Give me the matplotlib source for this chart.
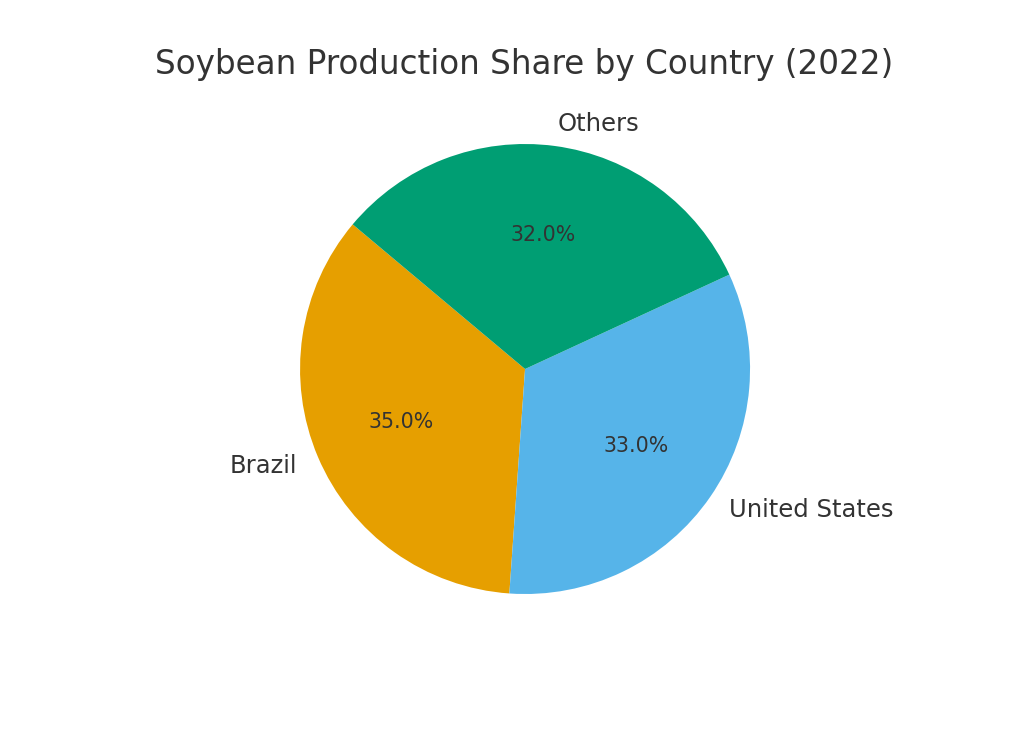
import matplotlib
matplotlib.use("Agg")
import matplotlib.pyplot as plt

countries = ["Brazil", "United States", "Others"]
shares = [35.0, 33.0, 32.0]
colors = ["#E69F00", "#56B4E9", "#009E73"]

fig = plt.figure(figsize=(10.24, 7.31), dpi=100)
ax = fig.add_axes([0.5127 - 0.2197, 0.4952 - 0.3078, 0.4395, 0.6156])
wedges, texts, autotexts = ax.pie(shares, labels=countries, colors=colors, startangle=140,
                                  autopct="%1.1f%%", textprops={"color": "#333333", "fontsize": 17.5})
for t in autotexts:
    t.set_fontsize(14.8)
ax.set_xlim(-1, 1)
ax.set_ylim(-1, 1)
ax.set_aspect("equal")
fig.text(0.5117, 0.912, "Soybean Production Share by Country (2022)", ha="center", va="center",
         fontsize=23.5, color="#333333")
fig.savefig("out.png", dpi=100)
